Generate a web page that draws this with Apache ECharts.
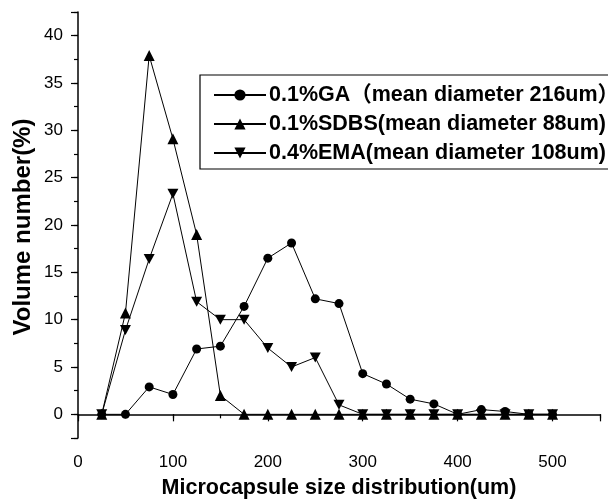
<!DOCTYPE html>
<html>
<head>
<meta charset="utf-8">
<script src="https://cdn.jsdelivr.net/npm/echarts@6/dist/echarts.min.js"></script>
<style>html,body{margin:0;padding:0;background:#fff;}#c{width:608px;height:499px;}</style>
</head>
<body>
<div id="c"></div>
<script>
var sizes = [25, 50, 75, 100, 125, 150, 175, 200, 225, 250, 275, 300, 325, 350, 375, 400, 425, 450, 475, 500];
var gaValues = [0, 0, 2.9, 2.1, 6.9, 7.2, 11.4, 16.5, 18.1, 12.2, 11.7, 4.3, 3.2, 1.6, 1.1, 0, 0.5, 0.3, 0, 0];
var sdbsValues = [0, 10.7, 37.9, 29.1, 19.0, 2.0, 0, 0, 0, 0, 0, 0, 0, 0, 0, 0, 0, 0, 0, 0];
var emaValues = [0, 8.9, 16.4, 23.3, 11.9, 10.0, 10.0, 7.0, 5.0, 6.0, 1.0, 0, 0, 0, 0, 0, 0, 0, 0, 0];
var seriesNames = ['0.1%GA（mean diameter 216um）', '0.1%SDBS(mean diameter 88um)', '0.4%EMA(mean diameter 108um)'];
var xTitle = 'Microcapsule size distribution(um)';
var yTitle = 'Volume number(%)';

function pairs(vals) { return sizes.map(function (s, i) { return [s, vals[i]]; }); }

var FONT = '"Liberation Sans", Arial, "Noto Sans CJK SC", sans-serif';
var downTri = 'path://M0,0 L10,0 L5,9 Z';

var chart = echarts.init(document.getElementById('c'), null, {renderer: 'canvas'});
var axisLine = {show: true, lineStyle: {color: '#000', width: 1.5}};
chart.setOption({
  animation: false,
  backgroundColor: '#fff',
  grid: {left: 78, right: 8, top: 12, bottom: 61, containLabel: false},
  xAxis: [{
    type: 'value', min: 0, max: 550, interval: 100,
    axisLine: axisLine,
    axisTick: {show: true, length: 7, lineStyle: {color: '#000', width: 1.2}},
    axisLabel: {color: '#000', fontSize: 17, fontFamily: FONT, margin: 16,
      formatter: function (v) { return v % 100 === 0 && v <= 500 ? String(v) : ''; }},
    splitLine: {show: false}
  }, {
    type: 'value', min: 0, max: 550, interval: 50, position: 'bottom',
    axisLine: {show: false},
    axisTick: {show: true, length: 4, lineStyle: {color: '#000', width: 1.2}},
    axisLabel: {show: false}, splitLine: {show: false}
  }],
  yAxis: [{
    type: 'value', min: -2.5, max: 42.5, splitNumber: 9,
    axisLine: axisLine,
    axisTick: {show: true, length: 7, lineStyle: {color: '#000', width: 1.2}},
    axisLabel: {color: '#000', fontSize: 17, fontFamily: FONT, margin: 15,
      formatter: function (v) { return (Math.abs(v % 5) < 1e-9) ? String(v) : ''; }},
    splitLine: {show: false}
  }, {
    type: 'value', min: -2.5, max: 42.5, interval: 2.5, position: 'left',
    axisLine: {show: false},
    axisTick: {show: true, length: 4, lineStyle: {color: '#000', width: 1.2}},
    axisLabel: {show: false}, splitLine: {show: false}
  }],
  graphic: [{
    type: 'text', x: 339, y: 488,
    style: {text: xTitle, fill: '#000', font: 'bold 21.5px ' + FONT, textAlign: 'center', textVerticalAlign: 'middle'}
  }, {
    type: 'text', x: 23, y: 227, rotation: Math.PI / 2,
    style: {text: yTitle, fill: '#000', font: 'bold 24px ' + FONT, textAlign: 'center', textVerticalAlign: 'middle'}
  }],
  legend: {
    left: 200, top: 75, orient: 'vertical',
    backgroundColor: '#fff', borderColor: '#000', borderWidth: 1.2, borderRadius: 0,
    padding: [9, 2, 5, 13],
    itemWidth: 52, itemHeight: 14, itemGap: 7,
    textStyle: {color: '#000', fontSize: 21.5, fontWeight: 'bold', fontFamily: FONT, lineHeight: 22, padding: [0, 0, 0, -2]},
    data: seriesNames
  },
  series: [{
    name: seriesNames[0], type: 'line', data: pairs(gaValues),
    symbol: 'circle', symbolSize: 9,
    lineStyle: {color: '#000', width: 1}, itemStyle: {color: '#000'}
  }, {
    name: seriesNames[1], type: 'line', data: pairs(sdbsValues),
    symbol: 'triangle', symbolSize: 11,
    lineStyle: {color: '#000', width: 1}, itemStyle: {color: '#000'}
  }, {
    name: seriesNames[2], type: 'line', data: pairs(emaValues),
    symbol: downTri, symbolSize: [11, 10],
    lineStyle: {color: '#000', width: 1}, itemStyle: {color: '#000'}
  }]
});
</script>
</body>
</html>
